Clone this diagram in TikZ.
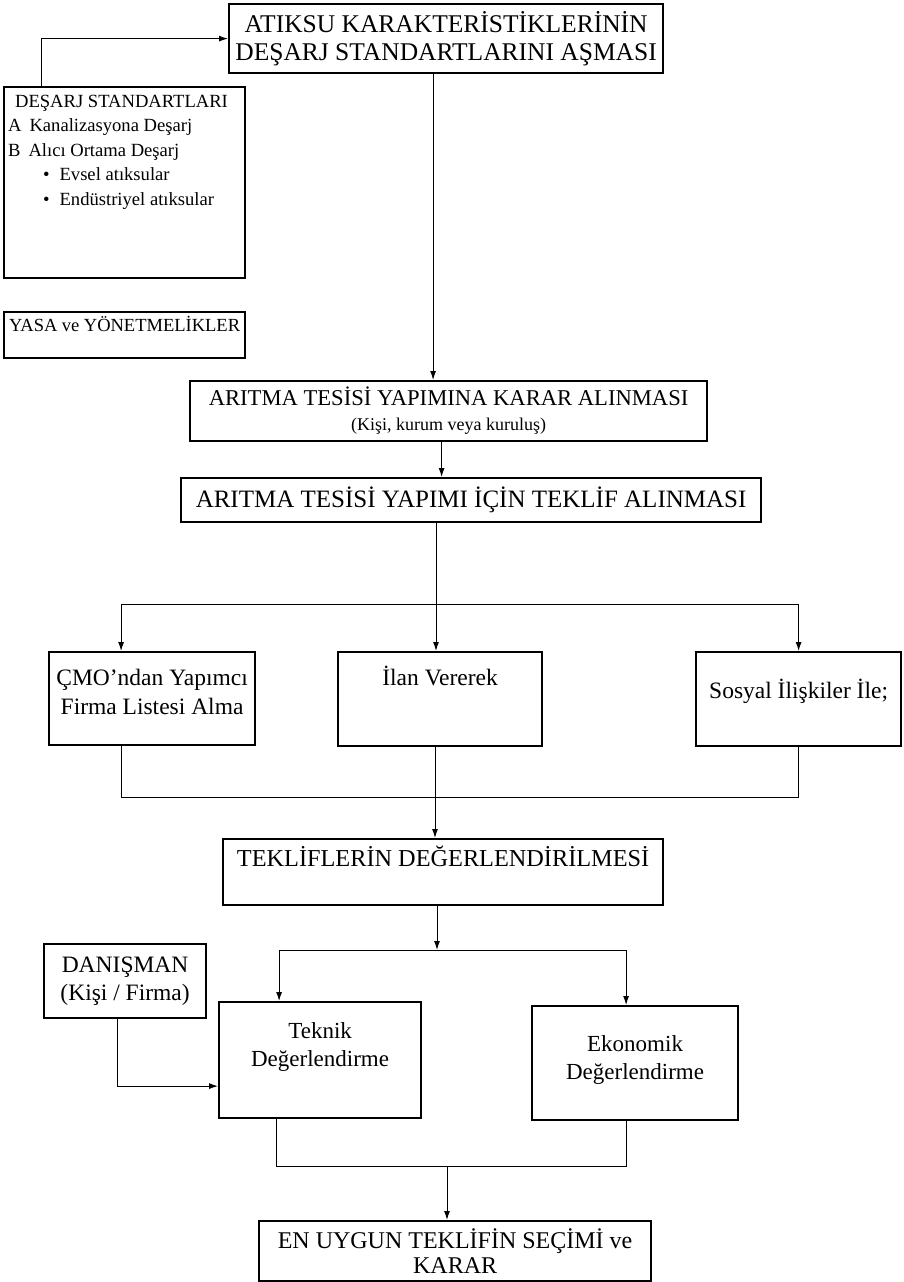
\documentclass[tikz,border=0pt]{standalone}
\usepackage{fontspec}
\setmainfont{Liberation Serif}
\usetikzlibrary{positioning,arrows.meta}

\tikzset{
  kutu/.style={draw, line width=2.2pt, inner sep=0pt, anchor=north west, align=flush center},
  baglanti/.style={line width=1pt},
  ok/.style={baglanti, -{Latex[length=9pt,width=6pt]}}
}

\begin{document}
\begin{tikzpicture}
			[x=1pt,y=-1pt]
			\useasboundingbox (0,0) rectangle (904,1282);
			% kutular
			\node[kutu, text width=434, minimum height=69, font=\fontsize{25.5}{28}\selectfont] (ustu) at (228,3)
				{ATIKSU KARAKTERİSTİKLERİNİN\\DEŞARJ STANDARTLARINI AŞMASI};
			\node[kutu, align=flush left, inner xsep=4pt, text width=233, text height=20, text depth=171, font=\fontsize{18.6}{24.5}\selectfont] (standart) at (3,86)
				{\hspace*{7pt}DEŞARJ STANDARTLARI\\
				 A\hspace{8pt}Kanalizasyona Deşarj\\
				 B\hspace{8pt}Alıcı Ortama Deşarj\\
				 \hspace*{35pt}\textbullet\hspace{10pt}Evsel atıksular\\
				 \hspace*{35pt}\textbullet\hspace{10pt}Endüstriyel atıksular};
			\node[kutu, align=flush left, inner xsep=5pt, text width=231, text height=19, text depth=27, font=\fontsize{18.5}{22}\selectfont] (yasa) at (3,311)
				{YASA ve YÖNETMELİKLER};
			\node[kutu, text width=517, minimum height=60, font=\fontsize{22.6}{25}\selectfont] (karar) at (189,380)
				{ARITMA TESİSİ YAPIMINA KARAR ALINMASI\\{\fontsize{18}{25}\selectfont (Kişi, kurum veya kuruluş)}};
			\node[kutu, text width=580, minimum height=44, font=\fontsize{25}{28}\selectfont] (teklif) at (180,477)
				{ARITMA TESİSİ YAPIMI İÇİN TEKLİF ALINMASI};
			\node[kutu, text width=206, text height=33, text depth=60, font=\fontsize{23.5}{29}\selectfont] (cmo) at (48,651)
				{ÇMO’ndan Yapımcı\\Firma Listesi Alma};
			\node[kutu, text width=204, text height=33, text depth=61, font=\fontsize{23.5}{29}\selectfont] (ilan) at (337,651)
				{İlan Vererek};
			\node[kutu, text width=205, text height=46, text depth=48, font=\fontsize{23.5}{29}\selectfont] (sosyal) at (695,651)
				{Sosyal İlişkiler İle;};
			\node[kutu, text width=440, text height=27, text depth=39, font=\fontsize{24.3}{28}\selectfont] (degerlendirme) at (222,838)
				{TEKLİFLERİN DEĞERLENDİRİLMESİ};
			\node[kutu, text width=162, minimum height=74, font=\fontsize{23.5}{28}\selectfont] (danisman) at (43,943)
				{DANIŞMAN\\(Kişi / Firma)};
			\node[kutu, text width=202, text height=36, text depth=80, font=\fontsize{23}{28}\selectfont] (teknik) at (218,1001)
				{Teknik\\Değerlendirme};
			\node[kutu, text width=206, text height=45, text depth=69, font=\fontsize{23}{28}\selectfont] (ekonomik) at (531,1005)
				{Ekonomik\\Değerlendirme};
			\node[kutu, text width=392, minimum height=60, font=\fontsize{24}{25}\selectfont] (enuygun) at (258,1220)
				{EN UYGUN TEKLİFİN SEÇİMİ ve\\KARAR};
			% dal noktalari
			\coordinate (dal) at (436,604);
			\coordinate (birlesim) at (435,797);
			\coordinate (ayrim) at (437,950);
			\coordinate (sonuc) at (447,1166);
			% baglantilar
			\draw[ok] ([xshift=38pt]standart.north west) |- (ustu.west);
			\draw[ok] ([xshift=-13pt]ustu.south) -- ([xshift=-13pt]ustu.south |- karar.north);
			\draw[ok] ([xshift=-7pt]karar.south) -- ([xshift=-7pt]karar.south |- teklif.north);
			\draw[ok] (teklif.south -| dal) -- (ilan.north -| dal);
			\draw[ok] (dal) -| ([xshift=-31pt]cmo.north);
			\draw[ok] (dal) -| (sosyal.north);
			\draw[baglanti] ([xshift=-31pt]cmo.south) |- (birlesim) -| (sosyal.south);
			\draw[ok] (ilan.south -| birlesim) -- (degerlendirme.north -| birlesim);
			\draw[ok] (degerlendirme.south -| ayrim) -- (ayrim);
			\draw[ok] (ayrim) -| ([xshift=-41pt]teknik.north);
			\draw[ok] (ayrim) -| ([xshift=-9pt]ekonomik.north);
			\draw[ok] ([xshift=-8pt]danisman.south) |- ([yshift=-26pt]teknik.west);
			\draw[baglanti] ([xshift=-44pt]teknik.south) |- (sonuc) -| ([xshift=-9pt]ekonomik.south);
			\draw[ok] (sonuc) -- (enuygun.north -| sonuc);
\end{tikzpicture}
\end{document}
